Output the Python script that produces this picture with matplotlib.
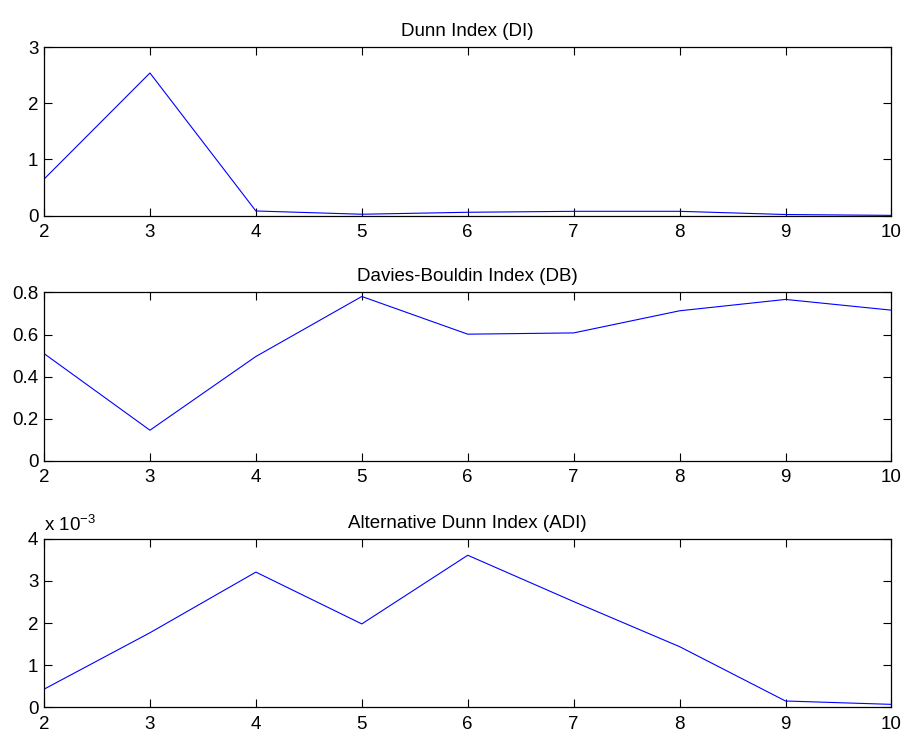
import matplotlib
matplotlib.use("Agg")
import matplotlib.pyplot as plt
from matplotlib.ticker import FuncFormatter

plt.rcParams["font.family"] = ["Liberation Sans", "DejaVu Sans"]
plt.rcParams["mathtext.fontset"] = "custom"
plt.rcParams["mathtext.rm"] = "Liberation Sans"

# number of clusters and validity indices
k = [2, 3, 4, 5, 6, 7, 8, 9, 10]
di = [0.65, 2.54, 0.083, 0.025, 0.06, 0.077, 0.077, 0.02, 0.005]
db = [0.51, 0.146, 0.496, 0.781, 0.602, 0.608, 0.713, 0.767, 0.716]
adi = [0.43e-3, 1.77e-3, 3.21e-3, 1.98e-3, 3.61e-3, 2.51e-3, 1.44e-3, 0.15e-3, 0.07e-3]

titles = ["Dunn Index (DI)", "Davies-Bouldin Index (DB)", "Alternative Dunn Index (ADI)"]
series = [di, db, adi]
ylims = [(0, 3), (0, 0.8), (0, 4e-3)]
yticks = [[0, 1, 2, 3], [0, 0.2, 0.4, 0.6, 0.8], [0, 1e-3, 2e-3, 3e-3, 4e-3]]
bottoms = [0.705, 0.3694, 0.0324]
FS = 13.5

fig = plt.figure(figsize=(9.02, 7.31), dpi=100)
for i in range(3):
    ax = fig.add_axes([0.0488, bottoms[i], 0.9395, 0.2305])
    ax.plot(k, series[i], color="#0000ff", lw=0.8)
    ax.set_xlim(2, 10)
    ax.set_ylim(*ylims[i])
    ax.set_xticks(k)
    ax.set_yticks(yticks[i])
    ax.tick_params(direction="in", length=6, width=0.8, top=True, right=True,
                   labelsize=FS, pad=4)
    ax.tick_params(axis="x", pad=6)
    for s in ax.spines.values():
        s.set_linewidth(0.9)
    ax.set_title(titles[i], fontsize=FS, pad=8)
    if i == 2:
        ax.yaxis.set_major_formatter(FuncFormatter(lambda v, p: f"{v * 1e3:g}"))
        ax.text(0, 1.025, "x 10$^{-3}$", transform=ax.transAxes,
                fontsize=FS, ha="left", va="bottom")
    else:
        ax.yaxis.set_major_formatter(FuncFormatter(lambda v, p: f"{v:g}"))

fig.savefig("out.png", dpi=100)
